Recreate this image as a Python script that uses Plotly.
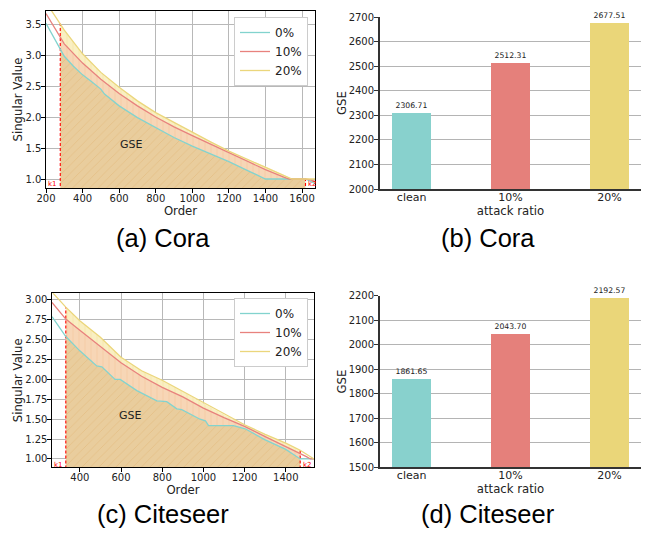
import plotly.graph_objects as go

W, H = 652, 533

# ---------------- data ----------------
series_names = ["0%", "10%", "20%"]

# (a) Cora singular values
cora_x_0 = [200, 278, 300, 350, 400, 450, 500, 520, 600, 700, 800, 900, 1000, 1100, 1200, 1300, 1400, 1619, 1671]
cora_y_0 = [3.51, 3.08, 2.98, 2.82, 2.68, 2.57, 2.45, 2.37, 2.18, 1.99, 1.83, 1.67, 1.53, 1.41, 1.28, 1.14, 1.00, 1.00, 0.93]
cora_x_10 = [200, 278, 300, 400, 500, 600, 700, 800, 900, 1000, 1100, 1200, 1300, 1400, 1500, 1530, 1619, 1640, 1671]
cora_y_10 = [3.67, 3.27, 3.18, 2.87, 2.61, 2.38, 2.18, 2.00, 1.84, 1.70, 1.56, 1.42, 1.28, 1.15, 1.03, 1.00, 1.00, 0.99, 0.96]
cora_x_20 = [200, 278, 300, 400, 500, 600, 700, 800, 900, 1000, 1100, 1200, 1300, 1400, 1500, 1545, 1619, 1671]
cora_y_20 = [3.85, 3.51, 3.40, 3.02, 2.72, 2.48, 2.26, 2.07, 1.91, 1.76, 1.60, 1.45, 1.32, 1.20, 1.07, 1.00, 1.00, 1.00]
cora_k1, cora_k2 = 278, 1619

# (c) Citeseer singular values
cite_x_0 = [265, 332, 400, 482, 507, 571, 596, 677, 774, 822, 871, 895, 984, 1010, 1025, 1146, 1203, 1300, 1400, 1470, 1537]
cite_y_0 = [2.79, 2.54, 2.36, 2.17, 2.16, 2.00, 2.00, 1.86, 1.73, 1.72, 1.63, 1.62, 1.50, 1.48, 1.42, 1.42, 1.38, 1.24, 1.12, 1.00, 1.00]
cite_x_10 = [265, 332, 400, 500, 600, 700, 800, 900, 1000, 1100, 1200, 1300, 1400, 1470, 1500, 1520, 1537]
cite_y_10 = [2.97, 2.76, 2.62, 2.42, 2.21, 2.04, 1.90, 1.78, 1.64, 1.52, 1.41, 1.28, 1.16, 1.07, 1.03, 1.00, 1.00]
cite_x_20 = [265, 332, 400, 500, 600, 700, 800, 900, 1000, 1100, 1200, 1300, 1400, 1470, 1500, 1537]
cite_y_20 = [3.10, 2.91, 2.74, 2.53, 2.28, 2.11, 1.99, 1.85, 1.70, 1.56, 1.43, 1.31, 1.20, 1.11, 1.06, 1.00]
cite_k1, cite_k2 = 332, 1470

# (b),(d) GSE bars
bar_categories = ["clean", "10%", "20%"]
cora_gse = [2306.71, 2512.31, 2677.51]
cite_gse = [1861.65, 2043.70, 2192.57]

# ---------------- style ----------------
line_colors = ["#82d3ce", "#e8827d", "#ebd67c"]
bar_colors = ["#88d1cd", "#e5807b", "#ead679"]
fill_colors = ["#e9cd9d", "#f7d6b6", "#f9efc2"]
hatch_shapes = ["/", "|", "|"]
hatch_fg = ["rgba(215,160,80,0.35)", "rgba(235,170,120,0.35)", "rgba(235,205,110,0.35)"]
FONT = "DejaVu Sans"


def px_x(p):
    return p / W


def px_y(p):
    return 1 - p / H


fig = go.Figure()


def add_curves(xs, ys, k1, k2, xa, ya, legend):
    # fills between k1 and k2 (stacked)
    for i in range(3):
        fx = [x for x in xs[i] if k1 <= x <= k2]
        fy = [y for x, y in zip(xs[i], ys[i]) if k1 <= x <= k2]
        fig.add_trace(go.Scatter(
            x=fx, y=fy, mode="none", xaxis=xa, yaxis=ya,
            fill="tozeroy" if i == 0 else "tonexty",
            fillcolor=fill_colors[i],
            fillpattern=dict(shape=hatch_shapes[i], fgcolor=hatch_fg[i], bgcolor=fill_colors[i],
                             size=6, solidity=0.12, fillmode="replace"),
            showlegend=False, hoverinfo="skip"))
    # k1/k2 dashed markers up to the 20% curve
    for k in (k1, k2):
        top = ys[2][xs[2].index(k)]
        fig.add_trace(go.Scatter(x=[k, k], y=[0, top], mode="lines", xaxis=xa, yaxis=ya,
                                 line=dict(color="#ff0000", width=1.1, dash="3px,2px"),
                                 showlegend=False, hoverinfo="skip"))
    for i in range(3):
        fig.add_trace(go.Scatter(x=xs[i], y=ys[i], mode="lines", name=series_names[i],
                                 xaxis=xa, yaxis=ya, legend=legend,
                                 line=dict(color=line_colors[i], width=1.3)))


add_curves([cora_x_0, cora_x_10, cora_x_20], [cora_y_0, cora_y_10, cora_y_20],
           cora_k1, cora_k2, "x", "y", "legend")
add_curves([cite_x_0, cite_x_10, cite_x_20], [cite_y_0, cite_y_10, cite_y_20],
           cite_k1, cite_k2, "x3", "y3", "legend2")

for vals, xa, ya in ((cora_gse, "x2", "y2"), (cite_gse, "x4", "y4")):
    fig.add_trace(go.Bar(x=bar_categories, y=vals, xaxis=xa, yaxis=ya, width=0.4,
                         marker=dict(color=bar_colors, line=dict(width=0)),
                         text=[f"{v:.2f}" for v in vals], textposition="outside",
                         textfont=dict(size=7.7, color="#222", family=FONT),
                         cliponaxis=False, showlegend=False))

tick_font = dict(family=FONT, size=10, color="#222")
title_font = dict(family=FONT, size=11.7, color="#222")

line_axis = dict(showline=True, linecolor="black", linewidth=1.2, mirror=True,
                 ticks="outside", ticklen=3.5, tickcolor="black", tickwidth=1,
                 showgrid=True, gridcolor="#b8b8b8", gridwidth=1.2, zeroline=False,
                 tickfont=tick_font, automargin=False)
bar_y_axis = dict(showline=True, linecolor="#333", linewidth=1.8, ticks="outside",
                  ticklen=4, tickcolor="#333", showgrid=True, gridcolor="#b4b4b4",
                  gridwidth=1.2, zeroline=False, tickfont=tick_font, automargin=False,
                  ticklabelstandoff=-2)
bar_x_axis = dict(showline=True, linecolor="#333", linewidth=1.5, ticks="",
                  showgrid=False, zeroline=False, tickfont=dict(family=FONT, size=11, color="#222"),
                  range=[-0.32, 2.32], automargin=False, ticklabelstandoff=-3)

legend_common = dict(xanchor="right", yanchor="top", bgcolor="white", bordercolor="#cccccc",
                     borderwidth=1, font=dict(family=FONT, size=12, color="#222"),
                     tracegroupgap=0, itemwidth=30, traceorder="normal")

fig.update_layout(
    width=W, height=H, margin=dict(l=0, r=0, t=0, b=0),
    paper_bgcolor="white", plot_bgcolor="white", bargap=0,
    xaxis=dict(line_axis, domain=[px_x(46), px_x(315)], range=[200, 1671],
               tickvals=[200, 400, 600, 800, 1000, 1200, 1400, 1600], ticklabelstandoff=-3,
               title=dict(text="Order", font=title_font, standoff=1), anchor="y"),
    yaxis=dict(line_axis, domain=[px_y(188), px_y(11)], range=[0.855, 3.71],
               tickvals=[1.0, 1.5, 2.0, 2.5, 3.0, 3.5], tickformat=".1f", ticklabelstandoff=-2,
               title=dict(text="Singular Value", font=title_font, standoff=0), anchor="x"),
    xaxis3=dict(line_axis, domain=[px_x(52), px_x(314)], range=[265, 1537],
                tickvals=[400, 600, 800, 1000, 1200, 1400], ticklabelstandoff=-3,
                title=dict(text="Order", font=title_font, standoff=1), anchor="y3"),
    yaxis3=dict(line_axis, domain=[px_y(467.3), px_y(293.3)], range=[0.895, 3.084],
                tickvals=[1.0, 1.25, 1.5, 1.75, 2.0, 2.25, 2.5, 2.75, 3.0], tickformat=".2f",
                ticklabelstandoff=-2,
                title=dict(text="Singular Value", font=title_font, standoff=0), anchor="x3"),
    xaxis2=dict(bar_x_axis, domain=[px_x(380), px_x(641)], anchor="y2",
                title=dict(text="attack ratio", font=title_font, standoff=1)),
    yaxis2=dict(bar_y_axis, domain=[px_y(189), px_y(17.3)], range=[2000, 2700],
                dtick=100, title=dict(text="GSE", font=title_font, standoff=0), anchor="x2"),
    xaxis4=dict(bar_x_axis, domain=[px_x(380), px_x(641)], anchor="y4",
                title=dict(text="attack ratio", font=title_font, standoff=1)),
    yaxis4=dict(bar_y_axis, domain=[px_y(467.3), px_y(295.7)], range=[1500, 2200],
                dtick=100, title=dict(text="GSE", font=title_font, standoff=0), anchor="x4"),
    legend=dict(legend_common, x=px_x(308), y=px_y(17)),
    legend2=dict(legend_common, x=px_x(308), y=px_y(298)),
)

ann = []
# GSE labels inside line charts
ann.append(dict(x=665, y=1.55, xref="x", yref="y", text="GSE", showarrow=False,
                font=dict(family=FONT, size=11, color="#222")))
ann.append(dict(x=648, y=1.55, xref="x3", yref="y3", text="GSE", showarrow=False,
                font=dict(family=FONT, size=11, color="#222")))
# k1/k2 labels
kfont = dict(family=FONT, size=7, color="#ff0000")
ann += [
    dict(x=cora_k1, y=0.915, xref="x", yref="y", text="k1", showarrow=False, xanchor="right", xshift=-1, font=kfont),
    dict(x=cora_k2, y=0.915, xref="x", yref="y", text="k2", showarrow=False, xanchor="left", xshift=1, font=kfont),
    dict(x=cite_k1, y=0.92, xref="x3", yref="y3", text="k1", showarrow=False, xanchor="right", xshift=-1, font=kfont),
    dict(x=cite_k2, y=0.92, xref="x3", yref="y3", text="k2", showarrow=False, xanchor="left", xshift=1, font=kfont),
]
# captions
cap_font = dict(family="Liberation Sans", size=25.5, color="black")
for text, cx, cy in (("(a) Cora", 162.5, 237.5), ("(b) Cora", 488.3, 237.5),
                     ("(c) Citeseer", 162.5, 514), ("(d) Citeseer", 488, 514)):
    ann.append(dict(x=px_x(cx), y=px_y(cy), xref="paper", yref="paper", text=text,
                    showarrow=False, xanchor="center", yanchor="middle", font=cap_font))
fig.update_layout(annotations=ann)

fig.write_html("out.html", config={"displayModeBar": False},
               post_script="document.body.style.margin='0';document.body.style.overflow='hidden';")
